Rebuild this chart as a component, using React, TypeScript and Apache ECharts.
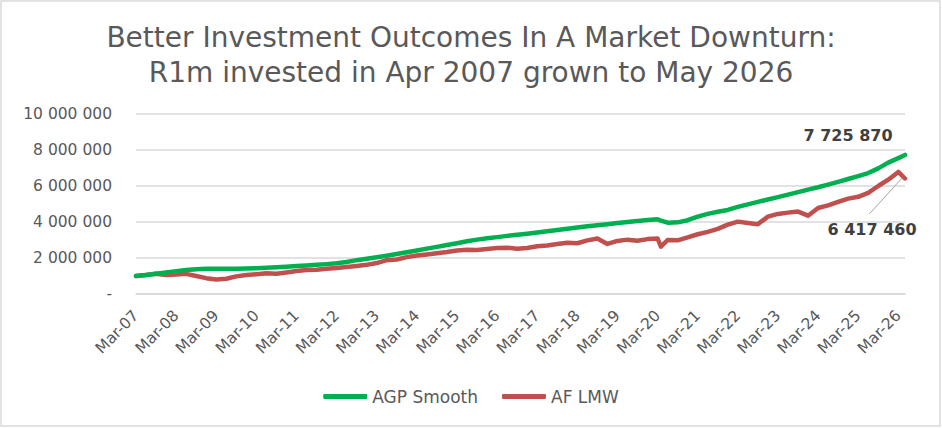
import React, { useEffect, useRef } from 'react';
import * as echarts from 'echarts';

// months elapsed since Mar-07 for each sampled point
const monthOffsets = [
  0, 3, 6, 9, 12, 15, 18, 21, 24, 27, 30, 33, 36, 39, 42, 45, 48, 51, 54, 57,
  60, 63, 66, 69, 72, 75, 78, 81, 84, 87, 90, 93, 96, 99, 102, 105, 108, 111, 114, 117,
  120, 123, 126, 129, 132, 135, 138, 141, 144, 147, 150, 153, 156, 157, 159, 162, 165, 168, 171, 174,
  177, 180, 183, 186, 189, 192, 195, 198, 201, 204, 207, 210, 213, 216, 219, 222, 225, 228, 230,
];

const agpSmooth = [
  1000000, 1060000, 1130000, 1200000, 1270000, 1330000, 1380000, 1400000, 1400000, 1400000,
  1400000, 1410000, 1430000, 1460000, 1490000, 1520000, 1560000, 1590000, 1620000, 1660000,
  1710000, 1780000, 1880000, 1960000, 2040000, 2130000, 2220000, 2320000, 2420000, 2520000,
  2620000, 2720000, 2820000, 2930000, 3020000, 3100000, 3160000, 3230000, 3290000, 3350000,
  3420000, 3490000, 3560000, 3630000, 3700000, 3760000, 3820000, 3880000, 3940000, 4000000,
  4060000, 4110000, 4150000, 4080000, 3960000, 3980000, 4100000, 4300000, 4450000, 4570000,
  4670000, 4840000, 4980000, 5120000, 5250000, 5380000, 5520000, 5660000, 5800000, 5930000,
  6080000, 6230000, 6390000, 6550000, 6720000, 6980000, 7300000, 7550000, 7725870,
];

const afLmw = [
  1000000, 1050000, 1120000, 1050000, 1080000, 1120000, 1000000, 880000, 800000, 850000,
  980000, 1050000, 1100000, 1150000, 1130000, 1200000, 1280000, 1330000, 1350000, 1400000,
  1450000, 1500000, 1560000, 1620000, 1720000, 1880000, 1920000, 2050000, 2140000, 2200000,
  2260000, 2330000, 2420000, 2460000, 2450000, 2500000, 2550000, 2570000, 2520000, 2560000,
  2650000, 2700000, 2780000, 2850000, 2820000, 2980000, 3080000, 2780000, 2950000, 3020000,
  2960000, 3050000, 3080000, 2630000, 3000000, 2980000, 3150000, 3320000, 3450000, 3620000,
  3850000, 4020000, 3950000, 3880000, 4300000, 4450000, 4520000, 4580000, 4350000, 4780000,
  4920000, 5120000, 5300000, 5400000, 5620000, 6000000, 6350000, 6780000, 6417460,
];

const seriesNames = ['AGP Smooth', 'AF LMW'];
const seriesColors = ['#00b050', '#c0504d'];
const titleLines = ['Better Investment Outcomes In A Market Downturn:', 'R1m invested in Apr 2007 grown to May 2026'];

// where the leader line of the AF LMW end label starts (month offset, value)
const leaderFoot = [219.3, 4440000];

const FONT = 'DejaVu Sans';

const spaced = (v: number) => String(Math.round(v)).replace(/\B(?=(\d{3})+(?!\d))/g, ' ');

const monthLabel = (m: number) => {
  const yy = 7 + Math.floor(m / 12);
  return 'Mar-' + String(yy).padStart(2, '0');
};

const App: React.FC = () => {
  const chartRef = useRef<HTMLDivElement>(null);

  useEffect(() => {
    document.body.style.margin = '0';
    if (!chartRef.current) return;
    const chart = echarts.init(chartRef.current, undefined, { renderer: 'svg' });

    const lastIdx = monthOffsets.length - 1;
    const buildData = (vals: number[], isGreen: boolean) =>
      vals.map((v, i) => {
        if (i !== lastIdx) return [monthOffsets[i], v];
        return {
          value: [monthOffsets[i], v],
          label: {
            show: true,
            formatter: spaced(v),
            position: isGreen ? 'top' : 'bottom',
            fontFamily: FONT,
            fontSize: 16,
            fontWeight: 'bold',
            color: '#404040',
          },
        };
      });

    const option = {
      animation: false,
      title: {
        text: titleLines.join('\n'),
        left: 'center',
        top: 15,
        textStyle: {
          fontFamily: FONT,
          fontSize: 28,
          fontWeight: 'normal',
          color: '#595959',
          lineHeight: 35,
        },
      },
      grid: { left: 136, right: 37, top: 114, bottom: 134 },
      legend: {
        bottom: 18,
        left: 'center',
        itemWidth: 44,
        itemHeight: 5,
        itemGap: 24,
        icon: 'roundRect',
        textStyle: { fontFamily: FONT, fontSize: 17, color: '#595959' },
        data: seriesNames,
      },
      xAxis: {
        type: 'value',
        min: 0,
        max: 230,
        interval: 12,
        axisLine: { show: true, lineStyle: { color: '#d9d9d9', width: 1.5 } },
        axisTick: { show: false },
        splitLine: { show: false },
        axisLabel: {
          rotate: 45,
          margin: 19,
          showMaxLabel: false,
          fontFamily: FONT,
          fontSize: 15.5,
          color: '#595959',
          formatter: (v: number) => monthLabel(v),
        },
      },
      yAxis: {
        type: 'value',
        min: 0,
        max: 10000000,
        interval: 2000000,
        axisLine: { show: false },
        axisTick: { show: false },
        splitLine: { lineStyle: { color: '#d9d9d9', width: 1.5 } },
        axisLabel: {
          margin: 24,
          fontFamily: FONT,
          fontSize: 15.5,
          color: '#595959',
          formatter: (v: number) => (v === 0 ? '-' : spaced(v)),
        },
      },
      series: [
        {
          name: seriesNames[0],
          type: 'line',
          data: buildData(agpSmooth, true),
          showSymbol: true,
          symbol: 'circle',
          symbolSize: 0.01,
          lineStyle: { color: seriesColors[0], width: 4.5, cap: 'round', join: 'round' },
          itemStyle: { color: seriesColors[0] },
          labelLayout: { dx: -57, dy: -6 },
          z: 3,
        },
        {
          name: seriesNames[1],
          type: 'line',
          data: buildData(afLmw, false),
          showSymbol: true,
          symbol: 'circle',
          symbolSize: 0.01,
          lineStyle: { color: seriesColors[1], width: 4.5, cap: 'round', join: 'round' },
          itemStyle: { color: seriesColors[1] },
          labelLayout: { dx: -33, dy: 38 },
          markLine: {
            silent: true,
            symbol: 'none',
            label: { show: false },
            lineStyle: { color: '#a6a6a6', width: 1, type: 'solid' },
            data: [
              [
                { coord: leaderFoot },
                { coord: [monthOffsets[lastIdx] - 0.8, afLmw[lastIdx] + 40000] },
              ],
            ],
          },
          z: 2,
        },
      ],
      graphic: [
        {
          type: 'rect',
          shape: { x: 1, y: 1, width: 939, height: 425 },
          style: { fill: 'none', stroke: '#d9d9d9', lineWidth: 1.5 },
          silent: true,
        },
      ],
    };

    chart.setOption(option);
    return () => {
      chart.dispose();
    };
  }, []);

  return <div ref={chartRef} style={{ width: 942, height: 428 }} />;
};

export default App;
